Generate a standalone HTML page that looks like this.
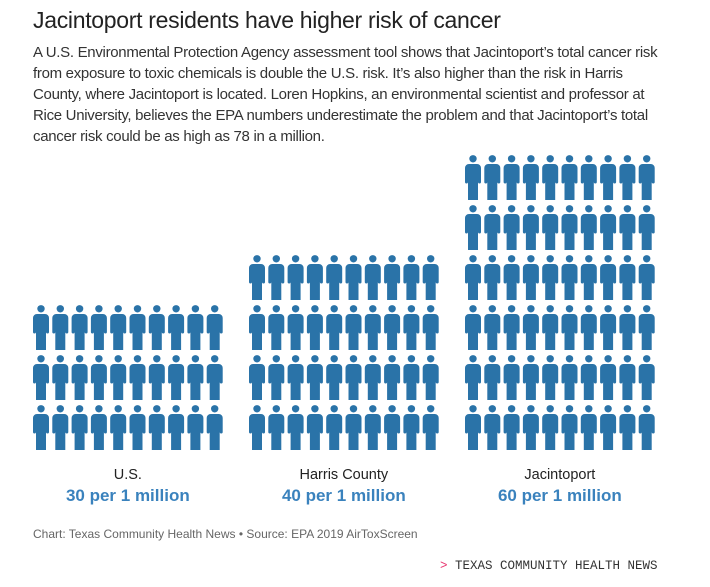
<!DOCTYPE html>
<html><head><meta charset="utf-8"><style>
body{margin:0;width:710px;height:587px;background:#fff;font-family:"Liberation Sans",sans-serif;overflow:hidden;position:relative}
.t{position:absolute;left:33px;top:7px;font-size:23px;color:#222;letter-spacing:-0.3px}
.d{position:absolute;left:33px;top:42px;font-size:15px;line-height:21px;color:#333;letter-spacing:-0.3px;white-space:nowrap}
.c{position:absolute;left:33px;top:527px;font-size:12px;color:#666}
.f{position:absolute;left:440px;top:559px;font-family:"Liberation Mono",monospace;font-size:12.5px;color:#333}
.f span{color:#e8336e}
svg{position:absolute;left:0;top:0}
</style></head><body>
<div class="t">Jacintoport residents have higher risk of cancer</div>
<div class="d">A U.S. Environmental Protection Agency assessment tool shows that Jacintoport’s total cancer risk<br>from exposure to toxic chemicals is double the U.S. risk. It’s also higher than the risk in Harris<br>County, where Jacintoport is located. Loren Hopkins, an environmental scientist and professor at<br>Rice University, believes the EPA numbers underestimate the problem and that Jacintoport’s total<br>cancer risk could be as high as 78 in a million.</div>
<svg id="chart" width="710" height="587"></svg>
<div class="c">Chart: Texas Community Health News • Source: EPA 2019 AirToxScreen</div>
<div class="f"><span>&gt;</span> TEXAS COMMUNITY HEALTH NEWS</div>
<script>
const categories=["U.S.","Harris County","Jacintoport"];
const values=[30,40,60];
const valueLabels=["30 per 1 million","40 per 1 million","60 per 1 million"];
const NS="http://www.w3.org/2000/svg";
const svg=document.getElementById('chart');
const groupX=[33,249,465],perRow=10,colW=19.3,rowH=50,bottom=450,iconH=45;
const iconPath="M4,9 h8 a4,4 0 0 1 4,4 v14 a1.5,1.5 0 0 1 -3,0 v18 h-10 v-18 a1.5,1.5 0 0 1 -3,0 v-14 a4,4 0 0 1 4,-4z";
categories.forEach((cat,gi)=>{
  const g=document.createElementNS(NS,'g');
  
  
  svg.appendChild(g);
  const n=values[gi],rows=Math.ceil(n/perRow);
  for(let i=0;i<n;i++){
    const r=Math.floor(i/perRow),c=i%perRow;
    const x=groupX[gi]+c*colW,y=bottom-iconH-(rows-1-r)*rowH;
    const ic=document.createElementNS(NS,'g');
    
    
    ic.setAttribute('transform',`translate(${x},${y})`);
    ic.setAttribute('fill','#2a73a8');
    const h=document.createElementNS(NS,'circle');
    h.setAttribute('cx',8);h.setAttribute('cy',3.8);h.setAttribute('r',3.7);
    const b=document.createElementNS(NS,'path');
    b.setAttribute('d',iconPath);
    ic.appendChild(h);ic.appendChild(b);g.appendChild(ic);
  }
  const cx=groupX[gi]+(perRow-1)*colW/2+8;
  const t1=document.createElementNS(NS,'text');
  
  
  t1.setAttribute('x',cx);t1.setAttribute('y',479);t1.setAttribute('text-anchor','middle');
  t1.setAttribute('font-size','14.5');t1.setAttribute('fill','#222');
  t1.textContent=cat;svg.appendChild(t1);
  const t2=document.createElementNS(NS,'text');
  
  
  t2.setAttribute('x',cx);t2.setAttribute('y',501);t2.setAttribute('text-anchor','middle');
  t2.setAttribute('font-size','17');t2.setAttribute('font-weight','bold');t2.setAttribute('fill','#3a82bd');
  t2.textContent=valueLabels[gi];svg.appendChild(t2);
});
</script>
</body></html>
